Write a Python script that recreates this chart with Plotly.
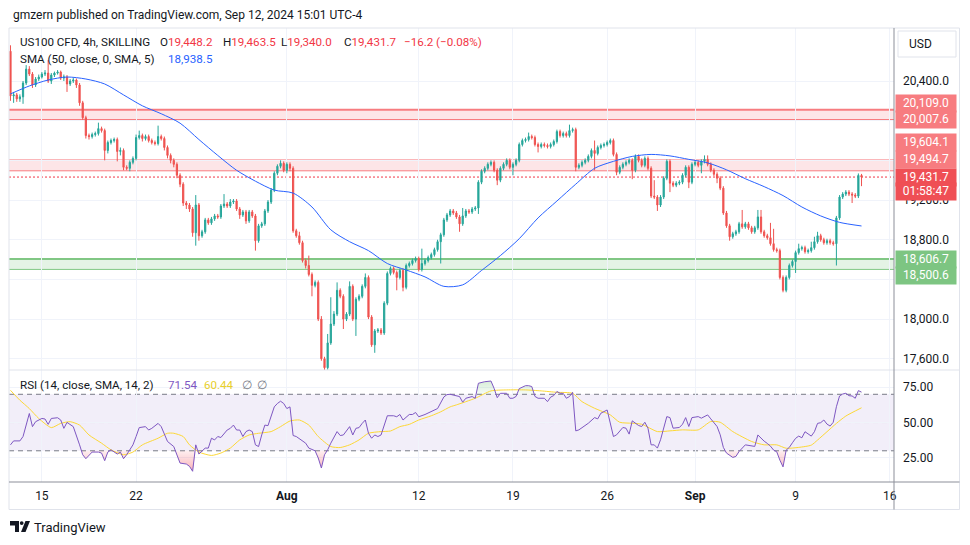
"""US100 CFD 4h chart with SMA 50 and RSI 14, rebuilt in plotly"""

import plotly.graph_objects as go
from plotly.subplots import make_subplots

# ---- values ----
# bar numbers: 0 is the first 4h bar of the Jul 15 session, 6 bars a day, 30 a week
FIRST_BAR = -8
first_open = 20700.0

close = [
    # Jul 11-12
    20250, 20260, 20220, 20240, 20380, 20520, 20470, 20360,
    # week of Jul 15
    20420, 20440, 20470, 20480, 20400, 20460, 20480, 20490, 20430, 20440,
    20370, 20400, 20410, 20360, 20180, 20030, 19850, 19840, 19860, 19870,
    19920, 19900, 19700, 19780, 19800, 19810, 19690, 19700, 19530, 19520,
    # week of Jul 22
    19580, 19620, 19830, 19850, 19820, 19840, 19800, 19780, 19770, 19840,
    19820, 19730, 19650, 19600, 19560, 19450, 19360, 19170, 19150, 19110,
    18870, 19150, 18840, 18880, 19000, 18970, 19010, 19040, 19030, 19140,
    # week of Jul 29
    19160, 19140, 19180, 19190, 19110, 19050, 19080, 18990, 19080, 19040,
    18790, 18940, 18960, 19090, 19180, 19300, 19470, 19540, 19570, 19500,
    19560, 19520, 18890, 18840, 18770, 18590, 18540, 18450, 18340, 18370,
    # week of Aug 5
    18000, 17600, 17510, 17760, 17950, 18050, 18290, 18230, 18000, 18050,
    18330, 18000, 18200, 18230, 18330, 18420, 18020, 17740, 17880, 17890,
    17860, 18160, 18460, 18510, 18470, 18420, 18490, 18320, 18540, 18560,
    # week of Aug 12
    18590, 18610, 18500, 18560, 18590, 18620, 18650, 18700, 18780, 18850,
    19000, 19050, 19090, 19070, 19030, 18960, 19040, 19090, 19080, 19110,
    19120, 19380, 19490, 19520, 19560, 19580, 19500, 19400, 19520, 19560,
    # week of Aug 19
    19600, 19530, 19560, 19600, 19760, 19800, 19810, 19840, 19830, 19760,
    19740, 19760, 19750, 19740, 19760, 19790, 19890, 19850, 19870, 19850,
    19900, 19910, 19530, 19550, 19580, 19600, 19640, 19700, 19670, 19730,
    # week of Aug 26
    19750, 19760, 19780, 19800, 19660, 19480, 19530, 19560, 19580, 19600,
    19500, 19640, 19600, 19550, 19620, 19520, 19240, 19230, 19150, 19230,
    19420, 19590, 19370, 19350, 19370, 19380, 19450, 19530, 19380, 19560,
    # week of Sep 2
    19580, 19550, 19590, 19610, 19560, 19500, 19460, 19420, 19320, 19070,
    18940, 18830, 18860, 18880, 18960, 18930, 18960, 18920, 18880, 18920,
    19030, 18880, 18840, 18820, 18760, 18700, 18690, 18420, 18290, 18420,
    # week of Sep 9
    18540, 18580, 18670, 18710, 18720, 18680, 18690, 18720, 18780, 18840,
    18800, 18770, 18790, 18770, 18760, 19020, 19230, 19260, 19280, 19260,
    19250, 19240, 19448.2, 19431.7,
]

# wick lengths in points above / below the candle body
upper_wick = [
    60, 30, 20, 25, 20, 40, 30, 20,
    20, 25, 20, 30, 130, 20, 15, 20, 15, 25,
    20, 20, 20, 15, 20, 20, 20, 20, 20, 20,
    60, 20, 20, 20, 20, 20, 20, 30, 20, 20,
    20, 20, 30, 50, 20, 20, 20, 20, 20, 110,
    20, 20, 20, 20, 20, 20, 20, 20, 20, 20,
    20, 100, 20, 20, 20, 20, 20, 20, 20, 20,
    100, 20, 30, 20, 20, 20, 20, 20, 20, 20,
    20, 20, 20, 20, 20, 20, 20, 20, 30, 20,
    20, 20, 20, 20, 40, 20, 20, 100, 20, 20,
    20, 30, 20, 90, 270, 30, 80, 20, 20, 20,
    50, 20, 20, 20, 20, 40, 20, 20, 20, 20,
    20, 20, 20, 20, 20, 20, 20, 20, 20, 20,
    20, 20, 20, 150, 20, 20, 20, 20, 20, 20,
    20, 20, 20, 20, 20, 20, 80, 20, 20, 20,
    20, 20, 20, 20, 20, 20, 20, 20, 20, 20,
    20, 20, 20, 20, 20, 20, 20, 40, 20, 20,
    20, 20, 20, 20, 20, 20, 20, 20, 20, 20,
    60, 20, 20, 20, 20, 20, 20, 20, 100, 20,
    20, 20, 20, 20, 20, 20, 20, 20, 20, 20,
    20, 20, 20, 20, 20, 20, 20, 160, 20, 20,
    20, 20, 20, 20, 20, 20, 20, 20, 20, 20,
    20, 20, 20, 40, 40, 20, 20, 20, 20, 20,
    20, 20, 20, 20, 20, 140, 20, 20, 20, 20,
    70, 70, 20, 20, 150, 150, 20, 20, 20, 20,
    20, 20, 20, 50, 20, 20, 20, 60, 50, 40,
    20, 20, 20, 20, 20, 20, 20, 20, 20, 20,
    20, 20, 20, 15.3,
]
lower_wick = [
    50, 70, 30, 30, 70, 20, 20, 30,
    20, 20, 15, 20, 20, 30, 20, 15, 20, 30,
    80, 20, 20, 30, 30, 20, 30, 30, 20, 20,
    20, 20, 100, 30, 20, 20, 100, 40, 30, 20,
    30, 20, 20, 20, 30, 20, 20, 20, 20, 20,
    20, 30, 30, 30, 30, 30, 30, 30, 40, 30,
    40, 130, 50, 20, 20, 20, 20, 20, 20, 20,
    20, 20, 20, 20, 20, 40, 20, 30, 20, 20,
    100, 20, 20, 20, 20, 20, 20, 20, 20, 20,
    30, 30, 20, 20, 20, 20, 30, 20, 110, 20,
    20, 20, 30, 20, 20, 20, 20, 20, 100, 20,
    20, 20, 170, 20, 20, 20, 20, 20, 80, 20,
    20, 20, 20, 20, 20, 130, 20, 40, 20, 20,
    20, 20, 20, 20, 20, 20, 20, 20, 20, 220,
    20, 20, 20, 20, 20, 80, 20, 20, 20, 20,
    20, 60, 20, 20, 20, 20, 20, 50, 20, 20,
    20, 20, 80, 20, 20, 20, 20, 20, 20, 20,
    60, 20, 20, 20, 20, 20, 20, 20, 20, 20,
    20, 20, 40, 20, 20, 20, 20, 20, 170, 20,
    20, 20, 20, 20, 20, 30, 20, 20, 20, 20,
    90, 20, 20, 20, 20, 20, 20, 20, 60, 20,
    20, 20, 90, 20, 20, 20, 20, 20, 60, 20,
    20, 20, 80, 20, 20, 20, 20, 50, 20, 20,
    20, 40, 20, 20, 20, 20, 20, 20, 20, 20,
    20, 20, 20, 20, 20, 20, 20, 20, 20, 20,
    20, 20, 115, 20, 20, 20, 20, 20, 20, 20,
    20, 20, 20, 20, 20, 220, 20, 20, 20, 20,
    80, 20, 20, 91.7,
]

sma_bar = [-8, -2, 4, 10, 16, 22, 28, 34, 40, 46, 52, 58, 64, 70, 76, 82,
           88, 94, 100, 106, 112, 118, 124, 130, 136, 142, 148, 154, 160,
           166, 172, 178, 184, 190, 196, 202, 208, 214, 220, 226, 232, 238,
           244, 250, 256, 263]
sma_value = [20270, 20350, 20410, 20440, 20420, 20370, 20260, 20150, 20070,
             19975, 19810, 19650, 19500, 19390, 19300, 19270, 19130, 18900,
             18780, 18690, 18560, 18495, 18425, 18330, 18345, 18490, 18640,
             18810, 19020, 19190, 19360, 19520, 19590, 19640, 19660, 19645,
             19610, 19575, 19505, 19415, 19335, 19245, 19130, 19040, 18975,
             18938.5]

rsi_bar = [-8, -7, -5, -4, -2, -1, 0, 2, 3, 4, 5, 7, 8, 9, 10, 12, 14, 15, 16,
           18, 20, 21, 22, 23, 24, 25, 26, 27, 28, 29, 31, 32, 33, 35, 36, 37,
           39, 40, 41, 42, 44, 45, 46, 48, 49, 50, 51, 52, 54, 55, 56, 57, 58,
           59, 61, 62, 63, 64, 65, 66, 67, 68, 69, 70, 71, 72, 73, 74, 75, 76,
           77, 78, 79, 80, 81, 82, 83, 84, 86, 87, 89, 90, 91, 92, 93, 94, 95,
           96, 97, 98, 100, 101, 102, 103, 104, 105, 106, 107, 108, 109, 110,
           111, 112, 114, 115, 116, 117, 119, 120, 121, 122, 124, 126, 128,
           130, 131, 132, 135, 136, 137, 139, 140, 141, 143, 145, 146, 147,
           148, 150, 151, 152, 153, 154, 156, 157, 158, 159, 160, 162, 163,
           164, 165, 166, 167, 168, 169, 170, 171, 172, 173, 176, 178, 179,
           180, 182, 183, 184, 185, 187, 188, 189, 190, 192, 193, 194, 195,
           196, 197, 198, 199, 201, 202, 203, 205, 206, 207, 208, 209, 211,
           212, 214, 215, 217, 218, 219, 220, 222, 223, 224, 226, 227, 229,
           230, 231, 232, 233, 234, 235, 236, 237, 238, 239, 240, 241, 242,
           243, 244, 245, 246, 247, 248, 249, 250, 251, 252, 253, 254, 255,
           256, 257, 258, 259, 260, 261, 262, 263]
rsi_value = [34.2, 37.0, 37.0, 40.1, 56.4, 47.1, 50.6, 52.9, 52.5, 48.7, 52.9,
             53.4, 51.8, 45.9, 50.1, 47.1, 34.2, 27.2, 24.4, 29.1, 29.1, 28.4,
             23.0, 29.1, 30.7, 29.1, 27.7, 29.1, 24.4, 27.2, 34.2, 40.1, 46.4,
             47.1, 44.7, 45.9, 49.4, 47.1, 41.2, 36.6, 33.0, 27.2, 21.3, 20.6,
             19.0, 15.5, 34.2, 27.7, 31.9, 31.9, 38.9, 37.7, 40.1, 39.4, 44.7,
             45.9, 48.2, 44.7, 44.7, 40.1, 43.6, 44.7, 43.6, 34.2, 33.0, 41.2,
             48.2, 47.8, 55.3, 61.1, 63.5, 65.1, 63.5, 59.9, 61.1, 40.8, 40.1,
             38.4, 35.4, 31.9, 30.0, 24.9, 17.8, 27.2, 30.7, 35.4, 40.1, 43.6,
             40.8, 41.2, 47.1, 41.2, 45.9, 46.4, 49.4, 51.8, 42.4, 38.9, 41.2,
             40.1, 41.2, 48.2, 54.8, 54.8, 54.1, 55.7, 51.8, 55.7, 55.7, 57.1,
             54.1, 55.7, 57.6, 59.9, 68.1, 69.8, 70.0, 68.4, 64.4, 67.2, 68.4,
             67.2, 77.8, 78.9, 79.4, 74.2, 67.6, 70.7, 70.7, 67.2, 67.2, 68.5,
             74.0, 76.1, 76.1, 75.5, 68.5, 67.2, 67.2, 64.8, 68.0, 69.1, 72.0,
             70.7, 70.7, 67.2, 68.4, 71.4, 44.1, 44.8, 49.5, 53.5, 52.6, 56.6,
             58.9, 48.4, 40.1, 41.3, 46.5, 46.0, 41.8, 51.2, 47.9, 47.2, 50.2,
             46.0, 34.2, 34.2, 31.9, 37.8, 54.2, 53.5, 46.0, 46.5, 48.8, 53.5,
             47.2, 53.5, 54.2, 53.1, 55.4, 52.6, 47.2, 41.3, 32.4, 28.4, 25.3,
             26.0, 29.5, 34.2, 33.8, 33.1, 41.2, 38.8, 36.8, 35.2, 33.3, 30.5,
             29.3, 23.4, 18.6, 30.5, 32.4, 35.7, 38.8, 40.4, 39.2, 43.5, 41.8,
             40.4, 43.5, 49.4, 49.9, 51.8, 48.9, 47.5, 50.2, 61.2, 68.8, 70.2,
             70.7, 69.0, 68.8, 67.2, 72.6, 71.54]

rsi_ma_bar = [-8, -5, -2, 1, 5, 8, 11, 14, 17, 21, 24, 28, 31, 34, 39, 42, 44,
              47, 49, 52, 56, 59, 62, 65, 68, 71, 75, 78, 81, 84, 87, 90, 94,
              97, 100, 103, 106, 110, 113, 116, 119, 122, 126, 129, 132, 134,
              140, 145, 150, 156, 161, 166, 171, 174, 178, 183, 186, 190, 193,
              198, 202, 206, 211, 215, 218, 222, 228, 232, 236, 239, 243, 247,
              249, 252, 255, 258, 263]
rsi_ma_value = [72.8, 65.8, 59.9, 52.9, 46.4, 49.4, 50.6, 48.2, 41.2, 35.4,
                30.7, 27.2, 29.1, 34.2, 38.9, 42.4, 42.4, 40.1, 34.2, 29.1,
                26.7, 28.4, 31.9, 37.7, 41.2, 42.4, 43.6, 47.1, 51.1, 51.8,
                48.2, 40.1, 33.0, 32.3, 34.2, 37.7, 42.4, 43.6, 44.0, 47.1,
                48.7, 51.8, 54.8, 57.6, 61.1, 62.5, 67.2, 72.4, 73.1, 73.1,
                72.4, 71.4, 70.7, 64.8, 60.1, 55.4, 50.2, 49.5, 48.8, 43.6,
                44.1, 44.8, 44.8, 50.7, 50.2, 43.6, 36.6, 34.2, 34.2, 31.8,
                32.4, 34.0, 37.6, 43.5, 49.4, 54.6, 60.44]

tick_bar = [2, 32, 80, 122, 152, 182, 210, 242, 272]
tick_text = ["15", "22", "<b>Aug</b>", "12", "19", "26", "<b>Sep</b>", "9", "16"]

zone_upper = [20007.6, 20109.0]
zone_lower = [19494.7, 19604.1]
zone_support = [18500.6, 18606.7]
last_price = 19431.7
countdown = "01:58:47"

# ---- look ----
FONT = "Roboto, Noto Sans, sans-serif"
TEXT = "#131722"
GREEN = "#26a69a"
RED = "#ef5350"
GRID = "#f0f3fa"
BORDER = "#e0e3eb"
AXIS_LINE = "#8c8f99"
LEGEND_SIZE = 11.6

W, H = 970, 545
PLOT_L, PLOT_R, PLOT_T, SPLIT, PLOT_B = 9, 894, 28, 370, 482
PW, PH = PLOT_R - PLOT_L, PLOT_B - PLOT_T


def px(x):
    """pixel column -> paper x"""
    return (x - PLOT_L) / PW


def py(y):
    """pixel row -> paper y"""
    return (PLOT_B - y) / PH


def text_at(x, y, text, size=12, color=TEXT, **kw):
    return dict(x=px(x), y=py(y), xref="paper", yref="paper", text=text,
                showarrow=False, xanchor="left", yanchor="middle",
                font=dict(family=FONT, size=size, color=color), **kw)


def legend_at(x, y, text, color=TEXT):
    return text_at(x, y, text, size=LEGEND_SIZE, color=color)


def price_tag(y, text, bg):
    return dict(x=px(895), y=py(y), xref="paper", yref="paper", text=text,
                showarrow=False, xanchor="left", yanchor="middle", width=60,
                height=16.5, bgcolor=bg, borderpad=0, align="center",
                font=dict(family=FONT, size=12, color="white"))


def split_at(xs, ys, level, above):
    """clip a line at a level, adding the crossing points, for the OB/OS fills"""
    fx, fy = [], []
    for k, (x, y) in enumerate(zip(xs, ys)):
        if k:
            a, b = ys[k - 1] - level, y - level
            if a * b < 0:
                fx.append(xs[k - 1] + a / (a - b) * (x - xs[k - 1]))
                fy.append(level)
        fx.append(x)
        fy.append(max(y, level) if above else min(y, level))
    return fx, fy


assert len(close) == len(upper_wick) == len(lower_wick)
assert len(rsi_bar) == len(rsi_value) and len(rsi_ma_bar) == len(rsi_ma_value)

bars = list(range(FIRST_BAR, FIRST_BAR + len(close)))
opens = [first_open] + close[:-1]
highs = [max(o, c) + w for o, c, w in zip(opens, close, upper_wick)]
lows = [min(o, c) - w for o, c, w in zip(opens, close, lower_wick)]

fig = make_subplots(rows=2, cols=1, shared_xaxes=True, vertical_spacing=0)

fig.add_trace(
    go.Candlestick(
        x=bars, open=opens, high=highs, low=lows, close=close,
        increasing=dict(line=dict(color=GREEN, width=1), fillcolor=GREEN),
        decreasing=dict(line=dict(color=RED, width=1), fillcolor=RED),
        whiskerwidth=0, hoverinfo="skip",
    ),
    row=1, col=1,
)
fig.add_trace(
    go.Scatter(x=sma_bar, y=sma_value, mode="lines", hoverinfo="skip",
               line=dict(color="#2962ff", width=1, shape="spline", smoothing=0.8)),
    row=1, col=1,
)

# RSI overbought / oversold fills
for level, above, scale in (
    (70, True, [[0, "rgba(76,175,80,0.05)"], [1, "rgba(76,175,80,0.6)"]]),
    (30, False, [[0, "rgba(242,54,69,0.7)"], [1, "rgba(242,54,69,0.08)"]]),
):
    fx, fy = split_at(rsi_bar, rsi_value, level, above)
    fig.add_trace(go.Scatter(x=fx, y=[level] * len(fx), mode="lines",
                             line=dict(width=0), hoverinfo="skip"), row=2, col=1)
    fig.add_trace(
        go.Scatter(x=fx, y=fy, mode="lines", line=dict(width=0), hoverinfo="skip",
                   fill="tonexty",
                   fillgradient=dict(type="vertical", colorscale=scale,
                                     start=70 if above else 0,
                                     stop=100 if above else 30)),
        row=2, col=1,
    )

fig.add_trace(
    go.Scatter(x=rsi_ma_bar, y=rsi_ma_value, mode="lines", hoverinfo="skip",
               line=dict(color="#fdd835", width=1, shape="spline", smoothing=0.6)),
    row=2, col=1,
)
fig.add_trace(
    go.Scatter(x=rsi_bar, y=rsi_value, mode="lines", hoverinfo="skip",
               line=dict(color="#7e57c2", width=1)),
    row=2, col=1,
)

shapes = []
# zones on the price pane
for (lo, hi), fill, line, widths in (
    (zone_upper, "rgba(242,54,69,0.13)", "#f77c80", (2, 2)),
    (zone_lower, "rgba(242,54,69,0.13)", "#f77c80", (1, 1)),
    (zone_support, "rgba(76,175,80,0.15)", "#81c784", (1, 2)),
):
    shapes.append(dict(type="rect", xref="x domain", yref="y", x0=0, x1=1,
                       y0=lo, y1=hi, fillcolor=fill, line=dict(width=0),
                       layer="below"))
    for v, w in zip((lo, hi), widths):
        shapes.append(dict(type="line", xref="x domain", yref="y", x0=0, x1=1,
                           y0=v, y1=v, line=dict(color=line, width=w),
                           layer="below"))
shapes.append(dict(type="line", xref="x domain", yref="y", x0=0, x1=1,
                   y0=last_price, y1=last_price, layer="below",
                   line=dict(color="#f23645", width=1, dash="2px,2px")))

# RSI band and levels
shapes.append(dict(type="rect", xref="x2 domain", yref="y2", x0=0, x1=1,
                   y0=30, y1=70, fillcolor="rgba(126,87,194,0.1)",
                   line=dict(width=0), layer="below"))
for v, col in ((70, "#787b86"), (30, "#787b86"), (50, "rgba(120,123,134,0.5)")):
    shapes.append(dict(type="line", xref="x2 domain", yref="y2", x0=0, x1=1,
                       y0=v, y1=v, layer="below",
                       line=dict(color=col, width=1, dash="5px,4px")))

# frame, pane separators, axis lines
shapes += [
    dict(type="rect", xref="paper", yref="paper", x0=px(9), x1=px(959.5),
         y0=py(509.5), y1=py(28), line=dict(color=BORDER, width=1)),
    dict(type="line", xref="paper", yref="paper", x0=px(9), x1=px(959.5),
         y0=py(370), y1=py(370), line=dict(color=BORDER, width=1)),
    dict(type="line", xref="paper", yref="paper", x0=px(9), x1=px(959.5),
         y0=py(482), y1=py(482), line=dict(color=AXIS_LINE, width=1)),
    dict(type="line", xref="paper", yref="paper", x0=px(894), x1=px(894),
         y0=py(509.5), y1=py(28), line=dict(color=AXIS_LINE, width=1)),
    dict(type="rect", xref="paper", yref="paper", x0=px(898), x1=px(956),
         y0=py(57), y1=py(31), line=dict(color=BORDER, width=1),
         fillcolor="white"),
]


# TradingView logo
def logo_path(points):
    return "M" + " L".join(f"{px(x)},{py(y)}" for x, y in points) + " Z"


shapes += [
    dict(type="path", xref="paper", yref="paper", fillcolor=TEXT,
         line=dict(width=0),
         path=logo_path([(10, 521), (19, 521), (19, 532), (15, 532), (15, 525.5),
                         (10, 525.5)])),
    dict(type="circle", xref="paper", yref="paper", fillcolor=TEXT,
         line=dict(width=0), x0=px(19.8), x1=px(23.6), y0=py(525), y1=py(521.2)),
    dict(type="path", xref="paper", yref="paper", fillcolor=TEXT,
         line=dict(width=0),
         path=logo_path([(25.5, 521), (30, 521), (25.5, 532), (21, 532)])),
]


def red(v):
    return f"<span style='color:#f23645'>{v}</span>"


annotations = [
    text_at(11, 15, "gmzern published on TradingView.com, Sep 12, 2024 15:01 UTC-4"),
    legend_at(18, 42, "US100 CFD, 4h, SKILLING"),
    legend_at(158, 42, "O" + red(f"{opens[-1]:,.1f}")),
    legend_at(221, 42, "H" + red(f"{highs[-1]:,.1f}")),
    legend_at(279, 42, "L" + red(f"{lows[-1]:,.1f}")),
    legend_at(342, 42, "C" + red(f"{close[-1]:,.1f}")),
    legend_at(402, 42, red("\u221216.2 (\u22120.08%)")),
    legend_at(18, 59, "SMA (50, close, 0, SMA, 5)"),
    legend_at(166, 59, f"{sma_value[-1]:,.1f}", color="#2962ff"),
    legend_at(18, 385, "RSI (14, close, SMA, 14, 2)"),
    legend_at(166, 385, f"{rsi_value[-1]:.2f}", color="#7e57c2"),
    legend_at(202, 385, f"{rsi_ma_value[-1]:.2f}", color="#e8cf2c"),
    legend_at(240, 385, "\u2205", color="#787b86"),
    legend_at(255, 385, "\u2205", color="#787b86"),
    text_at(907, 44, "USD"),
    text_at(32, 527, "TradingView", size=13),
    price_tag(103.3, f"{zone_upper[1]:,.1f}", "#f77c80"),
    price_tag(119.8, f"{zone_upper[0]:,.1f}", "#f77c80"),
    price_tag(142.5, f"{zone_lower[1]:,.1f}", "#f77c80"),
    price_tag(159.0, f"{zone_lower[0]:,.1f}", "#f77c80"),
    price_tag(177.0, f"{last_price:,.1f}", "#ef4f55"),
    price_tag(191.0, countdown, "#ef4f55"),
    price_tag(259.0, f"{zone_support[1]:,.1f}", "#7dc582"),
    price_tag(275.5, f"{zone_support[0]:,.1f}", "#7dc582"),
]

# price grid every 400; labels hidden where the colored tags sit
price_ticks = [17600, 18000, 18400, 18800, 19200, 19600, 20000, 20400]
hidden_ticks = [18400, 19600, 20000]

fig.update_layout(
    width=W, height=H,
    margin=dict(l=PLOT_L, r=W - PLOT_R, t=PLOT_T, b=H - PLOT_B),
    paper_bgcolor="white", plot_bgcolor="white",
    showlegend=False, hovermode=False, boxgap=0.45,
    font=dict(family=FONT, size=12, color=TEXT),
    shapes=shapes, annotations=annotations,
)
fig.update_xaxes(range=[-8.47, 273.34], tickvals=tick_bar, ticktext=tick_text,
                 showgrid=True, gridcolor=GRID, zeroline=False, ticks="",
                 showline=False, rangeslider_visible=False)
fig.update_xaxes(showticklabels=True, tickfont=dict(size=12, color=TEXT),
                 ticklabelstandoff=5, row=2, col=1)
fig.update_yaxes(side="right", showgrid=True, gridcolor=GRID, zeroline=False,
                 ticks="", showline=False, ticklabelstandoff=8,
                 tickfont=dict(size=12, color=TEXT))
fig.update_yaxes(domain=[py(SPLIT), 1], range=[17486.7, 20934.3],
                 tickvals=price_ticks,
                 ticktext=["" if v in hidden_ticks else f"{v:,.1f}"
                           for v in price_ticks], row=1, col=1)
fig.update_yaxes(domain=[0, py(SPLIT)], range=[7.9, 87.2],
                 tickvals=[25, 50, 75], ticktext=["25.00", "50.00", "75.00"],
                 row=2, col=1)

fig.write_html("out.html", config={"displayModeBar": False},
               post_script="document.body.style.margin='0';")
